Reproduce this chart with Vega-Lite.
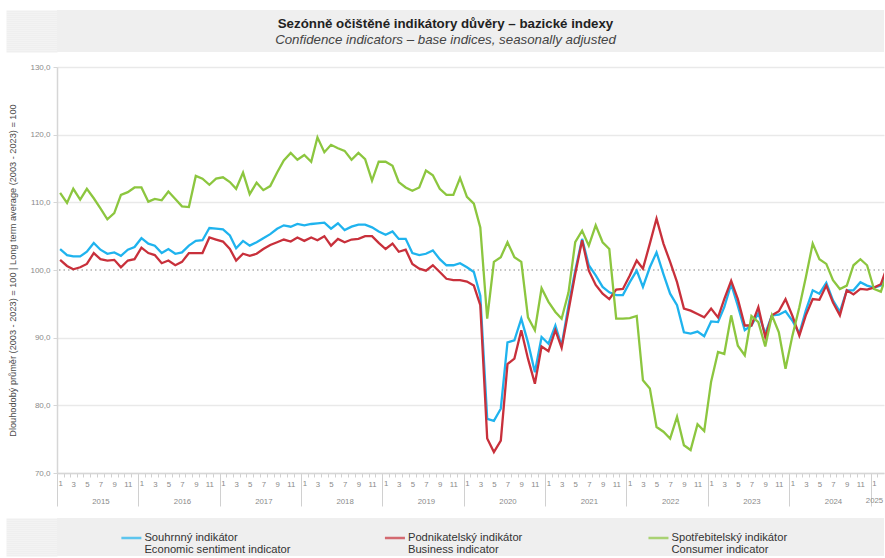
{
  "$schema": "https://vega.github.io/schema/vega-lite/v6.json",
  "padding": {"left": 4, "top": 9, "right": 0, "bottom": 0},
  "background": "white",
  "spacing": 10,
  "config": {
    "view": {"stroke": null},
    "axis": {"labelFont": "Liberation Sans", "titleFont": "Liberation Sans"},
    "text": {"font": "Liberation Sans"}
  },
  "vconcat": [
    {
      "width": 827,
      "height": 42,
      "view": {"fill": "#efefef", "stroke": null},
      "data": {"values": [{"cs": "Sezónně očištěné indikátory důvěry – bazické indexy", "en": "Confidence indicators – base indices, seasonally adjusted"}]},
      "encoding": {
        "y": {"datum": 21, "type": "quantitative", "scale": {"domain": [0, 42], "nice": false},
          "axis": {"title": null, "labels": false, "domain": false, "grid": false, "values": [1, 3, 5, 7, 9, 11, 13, 15, 17, 19, 21, 23, 25, 27, 29, 31, 33, 35, 37, 39, 41], "tickSize": 51, "tickWidth": 2.2, "tickColor": "#efefef"}}
      },
      "layer": [
        {"mark": {"type": "text", "dx": -25, "dy": -7, "fontSize": 13.3, "fontWeight": "bold", "color": "#222222"}, "encoding": {"text": {"field": "cs"}}},
        {"mark": {"type": "text", "dx": -25, "dy": 9, "fontSize": 13.3, "fontStyle": "italic", "color": "#444444"}, "encoding": {"text": {"field": "en"}}}
      ]
    },
    {
      "width": 827,
      "height": 406,
      "layer": [
        {
          "data": {"values": [{}]},
          "mark": {"type": "rule", "color": "#b0b0b0", "strokeDash": [1.5, 3], "strokeWidth": 1.3},
          "encoding": {"y": {"datum": 100, "type": "quantitative"}}
        },
        {
          "data": {
            "format": {"parse": {"d": "date:'%Y-%m'"}},
            "values": [
              {"d": "2015-01", "E": 103.1, "B": 101.5, "C": 111.4},
              {"d": "2015-02", "E": 102.2, "B": 100.6, "C": 109.9},
              {"d": "2015-03", "E": 102.0, "B": 100.1, "C": 112.0},
              {"d": "2015-04", "E": 102.0, "B": 100.4, "C": 110.4},
              {"d": "2015-05", "E": 102.7, "B": 100.9, "C": 112.0},
              {"d": "2015-06", "E": 104.0, "B": 102.5, "C": 110.6},
              {"d": "2015-07", "E": 103.0, "B": 101.6, "C": 109.1},
              {"d": "2015-08", "E": 102.4, "B": 101.4, "C": 107.5},
              {"d": "2015-09", "E": 102.6, "B": 101.5, "C": 108.4},
              {"d": "2015-10", "E": 102.1, "B": 100.4, "C": 111.1},
              {"d": "2015-11", "E": 103.0, "B": 101.4, "C": 111.5},
              {"d": "2015-12", "E": 103.4, "B": 101.6, "C": 112.2},
              {"d": "2016-01", "E": 104.7, "B": 103.3, "C": 112.2},
              {"d": "2016-02", "E": 103.9, "B": 102.5, "C": 110.1},
              {"d": "2016-03", "E": 103.6, "B": 102.2, "C": 110.5},
              {"d": "2016-04", "E": 102.5, "B": 101.0, "C": 110.3},
              {"d": "2016-05", "E": 103.1, "B": 101.4, "C": 111.6},
              {"d": "2016-06", "E": 102.4, "B": 100.7, "C": 110.5},
              {"d": "2016-07", "E": 102.6, "B": 101.2, "C": 109.4},
              {"d": "2016-08", "E": 103.6, "B": 102.5, "C": 109.3},
              {"d": "2016-09", "E": 104.3, "B": 102.5, "C": 113.9},
              {"d": "2016-10", "E": 104.4, "B": 102.5, "C": 113.5},
              {"d": "2016-11", "E": 106.2, "B": 104.8, "C": 112.6},
              {"d": "2016-12", "E": 106.1, "B": 104.5, "C": 113.5},
              {"d": "2017-01", "E": 106.0, "B": 104.2, "C": 113.7},
              {"d": "2017-02", "E": 105.1, "B": 103.1, "C": 113.0},
              {"d": "2017-03", "E": 103.2, "B": 101.4, "C": 112.0},
              {"d": "2017-04", "E": 104.3, "B": 102.4, "C": 114.4},
              {"d": "2017-05", "E": 103.6, "B": 102.1, "C": 111.2},
              {"d": "2017-06", "E": 104.1, "B": 102.4, "C": 112.9},
              {"d": "2017-07", "E": 104.7, "B": 103.1, "C": 111.8},
              {"d": "2017-08", "E": 105.3, "B": 103.7, "C": 112.4},
              {"d": "2017-09", "E": 106.1, "B": 104.1, "C": 114.4},
              {"d": "2017-10", "E": 106.6, "B": 104.5, "C": 116.2},
              {"d": "2017-11", "E": 106.4, "B": 104.2, "C": 117.3},
              {"d": "2017-12", "E": 106.8, "B": 104.8, "C": 116.3},
              {"d": "2018-01", "E": 106.6, "B": 104.3, "C": 117.0},
              {"d": "2018-02", "E": 106.8, "B": 104.8, "C": 116.0},
              {"d": "2018-03", "E": 106.9, "B": 104.4, "C": 119.6},
              {"d": "2018-04", "E": 107.0, "B": 105.0, "C": 117.4},
              {"d": "2018-05", "E": 106.1, "B": 103.6, "C": 118.5},
              {"d": "2018-06", "E": 106.9, "B": 104.6, "C": 118.0},
              {"d": "2018-07", "E": 105.9, "B": 104.1, "C": 117.6},
              {"d": "2018-08", "E": 106.4, "B": 104.5, "C": 116.3},
              {"d": "2018-09", "E": 106.7, "B": 104.6, "C": 117.3},
              {"d": "2018-10", "E": 106.7, "B": 105.0, "C": 116.4},
              {"d": "2018-11", "E": 106.3, "B": 105.0, "C": 113.2},
              {"d": "2018-12", "E": 105.7, "B": 104.0, "C": 116.0},
              {"d": "2019-01", "E": 105.2, "B": 103.1, "C": 116.0},
              {"d": "2019-02", "E": 105.7, "B": 103.9, "C": 115.4},
              {"d": "2019-03", "E": 104.6, "B": 102.7, "C": 113.0},
              {"d": "2019-04", "E": 104.6, "B": 103.0, "C": 112.2},
              {"d": "2019-05", "E": 102.5, "B": 100.9, "C": 111.7},
              {"d": "2019-06", "E": 102.2, "B": 100.2, "C": 112.2},
              {"d": "2019-07", "E": 102.4, "B": 99.9, "C": 114.7},
              {"d": "2019-08", "E": 102.9, "B": 100.7, "C": 114.0},
              {"d": "2019-09", "E": 101.6, "B": 99.7, "C": 112.0},
              {"d": "2019-10", "E": 100.7, "B": 98.7, "C": 111.1},
              {"d": "2019-11", "E": 100.7, "B": 98.5, "C": 111.1},
              {"d": "2019-12", "E": 101.0, "B": 98.5, "C": 113.6},
              {"d": "2020-01", "E": 100.4, "B": 98.3, "C": 110.8},
              {"d": "2020-02", "E": 99.7, "B": 97.7, "C": 109.8},
              {"d": "2020-03", "E": 96.2, "B": 94.8, "C": 106.3},
              {"d": "2020-04", "E": 78.0, "B": 75.1, "C": 92.8},
              {"d": "2020-05", "E": 77.7, "B": 73.1, "C": 101.2},
              {"d": "2020-06", "E": 79.5, "B": 74.8, "C": 101.9},
              {"d": "2020-07", "E": 89.3, "B": 86.1, "C": 104.1},
              {"d": "2020-08", "E": 89.6, "B": 86.9, "C": 101.9},
              {"d": "2020-09", "E": 92.8, "B": 91.1, "C": 101.2},
              {"d": "2020-10", "E": 89.3, "B": 86.9, "C": 93.0},
              {"d": "2020-11", "E": 84.9, "B": 83.2, "C": 91.1},
              {"d": "2020-12", "E": 90.1, "B": 88.7, "C": 97.3},
              {"d": "2021-01", "E": 89.1, "B": 88.0, "C": 95.3},
              {"d": "2021-02", "E": 91.8, "B": 91.1, "C": 93.8},
              {"d": "2021-03", "E": 88.8, "B": 88.5, "C": 92.8},
              {"d": "2021-04", "E": 94.8, "B": 94.0, "C": 96.7},
              {"d": "2021-05", "E": 99.9, "B": 99.4, "C": 104.1},
              {"d": "2021-06", "E": 104.6, "B": 104.4, "C": 105.8},
              {"d": "2021-07", "E": 100.7, "B": 99.9, "C": 103.6},
              {"d": "2021-08", "E": 99.2, "B": 97.8, "C": 106.6},
              {"d": "2021-09", "E": 97.5, "B": 96.5, "C": 104.1},
              {"d": "2021-10", "E": 96.7, "B": 95.7, "C": 103.1},
              {"d": "2021-11", "E": 96.3, "B": 97.1, "C": 92.8},
              {"d": "2021-12", "E": 96.3, "B": 97.2, "C": 92.8},
              {"d": "2022-01", "E": 98.2, "B": 99.2, "C": 92.9},
              {"d": "2022-02", "E": 99.9, "B": 101.4, "C": 93.2},
              {"d": "2022-03", "E": 97.5, "B": 100.2, "C": 83.7},
              {"d": "2022-04", "E": 100.4, "B": 103.9, "C": 82.5},
              {"d": "2022-05", "E": 102.6, "B": 107.6, "C": 76.8},
              {"d": "2022-06", "E": 99.4, "B": 103.9, "C": 76.1},
              {"d": "2022-07", "E": 96.5, "B": 101.2, "C": 75.1},
              {"d": "2022-08", "E": 94.8, "B": 98.2, "C": 78.3},
              {"d": "2022-09", "E": 90.8, "B": 94.3, "C": 74.1},
              {"d": "2022-10", "E": 90.6, "B": 94.0, "C": 73.4},
              {"d": "2022-11", "E": 90.9, "B": 93.5, "C": 77.2},
              {"d": "2022-12", "E": 90.2, "B": 93.0, "C": 76.2},
              {"d": "2023-01", "E": 92.4, "B": 94.3, "C": 83.5},
              {"d": "2023-02", "E": 92.3, "B": 93.0, "C": 87.9},
              {"d": "2023-03", "E": 94.5, "B": 95.7, "C": 87.6},
              {"d": "2023-04", "E": 97.9, "B": 98.4, "C": 93.3},
              {"d": "2023-05", "E": 94.7, "B": 95.7, "C": 88.8},
              {"d": "2023-06", "E": 91.1, "B": 91.8, "C": 87.4},
              {"d": "2023-07", "E": 91.8, "B": 91.8, "C": 93.2},
              {"d": "2023-08", "E": 93.6, "B": 94.5, "C": 92.3},
              {"d": "2023-09", "E": 90.6, "B": 90.1, "C": 88.7},
              {"d": "2023-10", "E": 93.3, "B": 93.3, "C": 93.3},
              {"d": "2023-11", "E": 93.4, "B": 93.9, "C": 90.8},
              {"d": "2023-12", "E": 93.9, "B": 95.7, "C": 85.4},
              {"d": "2024-01", "E": 92.5, "B": 93.2, "C": 90.3},
              {"d": "2024-02", "E": 90.6, "B": 90.3, "C": 94.5},
              {"d": "2024-03", "E": 94.0, "B": 93.3, "C": 98.9},
              {"d": "2024-04", "E": 97.0, "B": 95.7, "C": 103.9},
              {"d": "2024-05", "E": 96.5, "B": 95.6, "C": 101.6},
              {"d": "2024-06", "E": 98.1, "B": 97.7, "C": 100.9},
              {"d": "2024-07", "E": 95.5, "B": 95.2, "C": 98.5},
              {"d": "2024-08", "E": 93.8, "B": 93.3, "C": 97.2},
              {"d": "2024-09", "E": 97.0, "B": 97.0, "C": 97.7},
              {"d": "2024-10", "E": 97.0, "B": 96.4, "C": 100.7},
              {"d": "2024-11", "E": 98.2, "B": 97.2, "C": 101.6},
              {"d": "2024-12", "E": 97.7, "B": 97.1, "C": 100.7},
              {"d": "2025-01", "E": 97.4, "B": 97.4, "C": 97.2},
              {"d": "2025-02", "E": 97.7, "B": 97.9, "C": 96.8},
              {"d": "2025-03", "E": 100.0, "B": 100.5, "C": 99.5}
            ]
          },
          "transform": [{"fold": ["E", "B", "C"], "as": ["k", "v"]}],
          "mark": {"type": "line", "strokeWidth": 2.3, "clip": true},
          "encoding": {
            "x": {
              "field": "d",
              "type": "temporal",
              "scale": {"domain": [{"year": 2014, "month": 12, "date": 18}, {"year": 2025, "month": 2, "date": 15}], "nice": false},
              "axis": {
                "title": null,
                "grid": false,
                "tickCount": {"interval": "month", "step": 1},
                "domainColor": "#d6d6d6",
                "domainWidth": 1.5,
                "tickColor": "#d0d0d0",
                "tickSize": {"condition": {"test": "month(datum.value) == 0", "value": 33}, "value": 4},
                "labelPadding": {"condition": {"test": "month(datum.value) == 0", "value": -27}, "value": 3},
                "tickOffset": -3.4,
                "labelOffset": 3.4,
                "labelExpr": "month(datum.value) % 2 == 0 ? ((month(datum.value) == 6 || year(datum.value) == 2025) ? [toString(month(datum.value) + 1), toString(year(datum.value))] : toString(month(datum.value) + 1)) : ''",
                "labelOverlap": false,
                "labelFlush": false,
                "labelFontSize": 7.8,
                "labelColor": "#8a8a8a",
                "labelLineHeight": 17
              }
            },
            "y": {
              "field": "v",
              "type": "quantitative",
              "scale": {"domain": [70, 130], "nice": false, "zero": false},
              "axis": {
                "values": [70, 80, 90, 100, 110, 120, 130],
                "labelExpr": "replace(format(datum.value, '.1f'), '.', ',')",
                "grid": true,
                "gridColor": {"condition": {"test": "datum.value == 100", "value": "transparent"}, "value": "#e9e9e9"},
                "gridWidth": 1.5,
                "domainColor": "#d6d6d6",
                "domainWidth": 1.5,
                "tickColor": "#d6d6d6",
                "tickSize": 4,
                "labelFontSize": 8,
                "labelColor": "#8a8a8a",
                "labelPadding": 3,
                "minExtent": 36,
                "maxExtent": 36,
                "title": "Dlouhodobý průměr (2003 - 2023) = 100 | Long term average (2003 - 2023) = 100",
                "titleFontSize": 9.2,
                "titleFontWeight": "normal",
                "titleColor": "#4a4a4a",
                "titlePadding": 4
              }
            },
            "color": {
              "field": "k",
              "type": "nominal",
              "scale": {"domain": ["E", "B", "C"], "range": ["#1fb3ee", "#c8303b", "#8cc63f"]},
              "legend": null
            }
          }
        }
      ]
    },
    {
      "width": 827,
      "height": 38,
      "view": {"fill": "#efefef", "stroke": null},
      "data": {"values": [
        {"s": "E", "cs": "Souhrnný indikátor", "en": "Economic sentiment indicator"},
        {"s": "B", "cs": "Podnikatelský indikátor", "en": "Business indicator"},
        {"s": "C", "cs": "Spotřebitelský indikátor", "en": "Consumer indicator"}
      ]},
      "encoding": {
        "x": {"field": "s", "type": "nominal", "sort": ["E", "B", "C"], "scale": {"type": "point", "padding": 0.569, "align": 0.248}, "axis": null},
        "y": {"datum": 19, "type": "quantitative", "scale": {"domain": [0, 38], "nice": false},
          "axis": {"title": null, "labels": false, "domain": false, "grid": false, "values": [1, 3, 5, 7, 9, 11, 13, 15, 17, 19, 21, 23, 25, 27, 29, 31, 33, 35, 37], "tickSize": 51, "tickWidth": 2.2, "tickColor": "#efefef"}}
      },
      "layer": [
        {"mark": {"type": "tick", "orient": "horizontal", "size": 20, "thickness": 2.5, "yOffset": 1}, "encoding": {"color": {"field": "s", "type": "nominal", "legend": null}}},
        {"mark": {"type": "text", "align": "left", "dx": 13, "dy": 1, "fontSize": 11.2, "color": "#333333"}, "encoding": {"text": {"field": "cs"}}},
        {"mark": {"type": "text", "align": "left", "dx": 13, "dy": 13, "fontSize": 11.2, "color": "#333333"}, "encoding": {"text": {"field": "en"}}}
      ]
    }
  ]
}
